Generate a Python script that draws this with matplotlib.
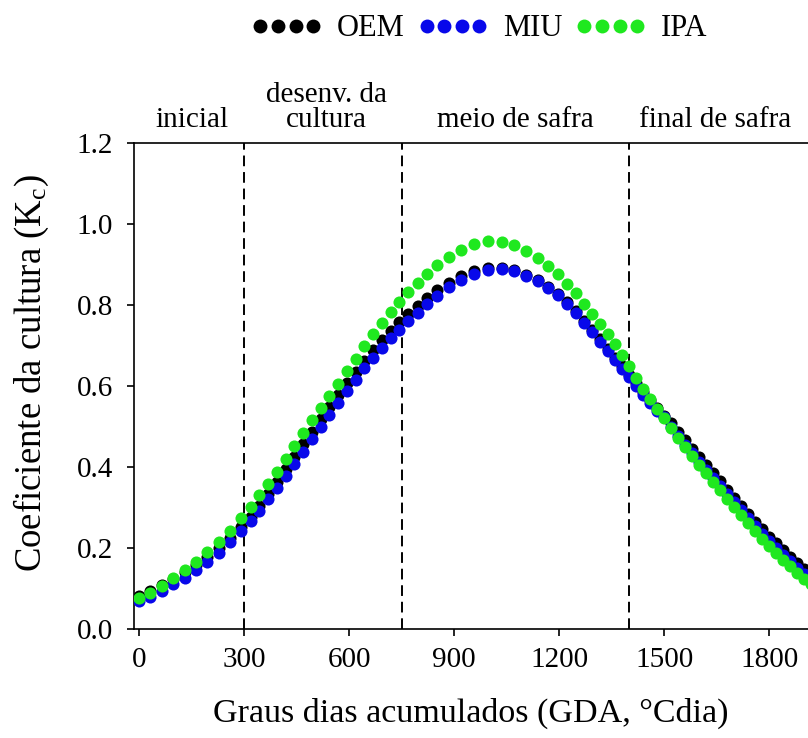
import matplotlib
matplotlib.use("Agg")
import matplotlib.pyplot as plt
from matplotlib.lines import Line2D
import matplotlib.transforms as mtransforms

plt.rcParams['font.family'] = ['Liberation Serif', 'DejaVu Serif']
plt.rcParams['mathtext.fontset'] = 'custom'
plt.rcParams['mathtext.rm'] = 'Liberation Serif'
plt.rcParams['mathtext.it'] = 'Liberation Serif'

# Graus dias acumulados (GDA)
gda = [0, 32, 65, 97, 130, 162, 195, 227, 260, 292,
       318, 343, 368, 393, 418, 443, 468, 493, 518, 543,
       568, 593, 618, 643, 668, 693, 718, 743, 768,
       795, 823, 852, 884, 918, 955, 995, 1035, 1072, 1106,
       1138, 1168, 1196, 1222, 1247, 1271, 1294, 1316, 1338, 1359, 1380,
       1400, 1420, 1440, 1460, 1480, 1500, 1520, 1540, 1560, 1580,
       1600, 1620, 1640, 1660, 1680, 1700, 1720, 1740, 1760, 1780,
       1800, 1820, 1840, 1860, 1880, 1900, 1920, 1940]

kc_oem = [0.082, 0.094, 0.108, 0.123, 0.140, 0.158, 0.178, 0.200, 0.225, 0.252,
          0.277, 0.304, 0.333, 0.363, 0.394, 0.425, 0.456, 0.487, 0.518, 0.548,
          0.578, 0.607, 0.635, 0.662, 0.688, 0.712, 0.735, 0.757, 0.777,
          0.797, 0.817, 0.836, 0.854, 0.870, 0.883, 0.891, 0.892, 0.886, 0.874,
          0.861, 0.845, 0.826, 0.806, 0.784, 0.761, 0.738, 0.715, 0.692, 0.669, 0.648,
          0.627, 0.606, 0.585, 0.565, 0.545, 0.526, 0.508, 0.487, 0.466, 0.445,
          0.424, 0.404, 0.384, 0.364, 0.344, 0.324, 0.304, 0.284, 0.265, 0.246,
          0.228, 0.211, 0.194, 0.178, 0.162, 0.147, 0.133, 0.120]

kc_miu = [0.068, 0.080, 0.094, 0.110, 0.127, 0.145, 0.166, 0.188, 0.214, 0.242,
          0.266, 0.292, 0.320, 0.349, 0.378, 0.408, 0.438, 0.468, 0.498, 0.528,
          0.558, 0.587, 0.615, 0.643, 0.669, 0.694, 0.717, 0.739, 0.760,
          0.781, 0.802, 0.822, 0.843, 0.862, 0.877, 0.886, 0.889, 0.883, 0.871,
          0.858, 0.842, 0.823, 0.802, 0.780, 0.756, 0.732, 0.709, 0.686, 0.663, 0.641,
          0.622, 0.600, 0.578, 0.558, 0.538, 0.522, 0.499, 0.477, 0.455, 0.434,
          0.413, 0.393, 0.373, 0.353, 0.333, 0.313, 0.293, 0.273, 0.254, 0.235,
          0.217, 0.200, 0.183, 0.167, 0.151, 0.136, 0.122, 0.109]

kc_ipa = [0.076, 0.090, 0.107, 0.126, 0.146, 0.166, 0.190, 0.214, 0.243, 0.273,
          0.302, 0.330, 0.358, 0.388, 0.420, 0.452, 0.484, 0.515, 0.545, 0.575,
          0.605, 0.636, 0.667, 0.698, 0.727, 0.755, 0.782, 0.808, 0.832,
          0.855, 0.877, 0.898, 0.918, 0.935, 0.950, 0.958, 0.956, 0.947, 0.933,
          0.916, 0.897, 0.875, 0.852, 0.829, 0.803, 0.777, 0.753, 0.728, 0.703, 0.677,
          0.648, 0.620, 0.593, 0.567, 0.542, 0.520, 0.495, 0.472, 0.449, 0.427,
          0.405, 0.384, 0.363, 0.342, 0.322, 0.301, 0.281, 0.261, 0.242, 0.223,
          0.205, 0.188, 0.171, 0.155, 0.139, 0.124, 0.110, 0.097]

series_names = ['OEM', 'MIU', 'IPA']
series_colors = ['#000000', '#0808ea', '#1fe81f']

phase_bounds = [300, 750, 1400]
phase_labels = ['inicial', 'desenv. da\ncultura', 'meio de safra', 'final de safra']
phase_centers = [150, 535, 1075, 1645]

xticks = [0, 300, 600, 900, 1200, 1500, 1800]
yticks = [0.0, 0.2, 0.4, 0.6, 0.8, 1.0, 1.2]

fig = plt.figure(figsize=(8.08, 7.38), dpi=100)
ax = fig.add_axes([0.1658, 0.1477, 0.873, 0.6589])

for yv, col in zip([kc_oem, kc_miu, kc_ipa], series_colors):
    ax.plot(gda, yv, linestyle='none', marker='o', ms=8.7, mew=0, color=col, zorder=3)

for b in phase_bounds:
    ax.plot([b, b], [0, 1.2], color='black', lw=1.4, ls=(0, (5.5, 3)), zorder=2)

ax.set_xlim(-15, 2000)
ax.set_ylim(0, 1.2)
ax.set_xticks(xticks)
ax.set_yticks(yticks)
ax.set_yticklabels([f'{v:.1f}' for v in yticks])
ax.tick_params(direction='out', length=5, width=1.2, labelsize=21, pad=8)
ax.tick_params(axis='y', pad=10)
for s in ['left', 'bottom', 'top']:
    ax.spines[s].set_linewidth(1.2)
ax.spines['right'].set_visible(False)

ax.set_xlabel('Graus dias acumulados (GDA, °Cdia)', fontsize=24.5)
ax.xaxis.set_label_coords(0.478, -0.142)
ax.set_ylabel('Coeficiente da cultura (K$_c$)', fontsize=26.5)
ax.yaxis.set_label_coords(-0.118, 0.527)

trans = mtransforms.blended_transform_factory(ax.transData, ax.transAxes)
for lab, xc in zip(phase_labels, phase_centers):
    ax.text(xc, 1.033, lab, transform=trans, ha='center', va='baseline',
            fontsize=21, linespacing=0.95, clip_on=False)

handles = [Line2D([], [], linestyle='none', marker='o', ms=10, mew=0, color=c)
           for c in series_colors]
fig.legend(handles, series_names, loc='center', bbox_to_anchor=(0.593, 0.961),
           ncol=3, numpoints=4, frameon=False, fontsize=22,
           handlelength=2.33, handletextpad=0.46, columnspacing=0.43)

fig.savefig('out.png', dpi=100)
